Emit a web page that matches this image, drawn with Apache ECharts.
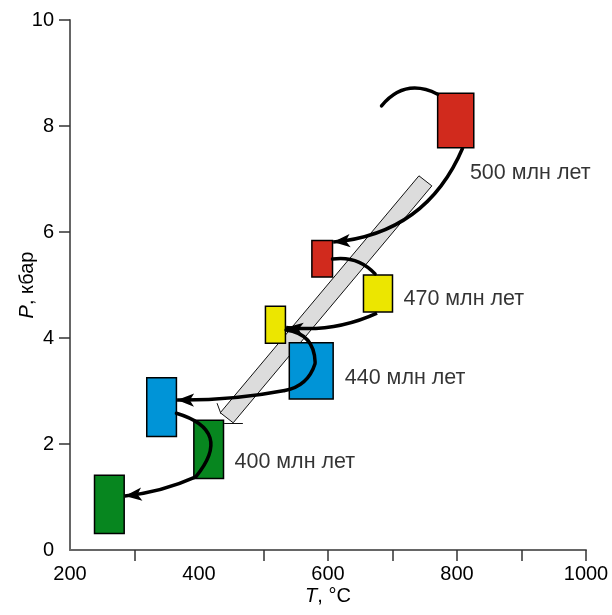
<!DOCTYPE html>
<html>
<head>
<meta charset="utf-8">
<script src="https://cdn.jsdelivr.net/npm/echarts@6/dist/echarts.min.js"></script>
<style>
  html, body { margin: 0; padding: 0; background: #fff; }
  #c1 { width: 612px; height: 615px; }
</style>
</head>
<body>
<div id="c1"></div>
<script>
// P-T boxes: temperature range (°C) and pressure range (kbar) for each stage
var boxPeriod = [500, 500, 470, 470, 440, 440, 400, 400]
var boxTMin = [770, 575, 655, 503, 540, 319, 392, 238]
var boxTMax = [826, 607, 700, 534, 608, 365, 438, 284]
var boxPMin = [7.59, 5.15, 4.49, 3.90, 2.85, 2.14, 1.35, 0.31]
var boxPMax = [8.62, 5.84, 5.19, 4.60, 3.91, 3.25, 2.45, 1.41]

// age labels (млн лет)
var labelAge = [500, 470, 440, 400]
var labelT = [820, 717, 626, 455]
var labelP = [7.11, 4.74, 3.25, 1.65]

// grey band (corner points, T / P)
var bandT = [741, 761, 453, 433]
var bandP = [7.06, 6.87, 2.40, 2.59]
// two thin strokes at the lower end of the band
var stickFrom = [[428, 2.77], [439, 2.40]]
var stickTo = [[434, 2.57], [468, 2.40]]

// P-T path: arcs without arrow and arcs ending in an arrow
var arcFrom = [[683, 8.38], [607, 5.49], [535, 4.15], [580, 3.52], [365, 2.58]]
var arcTo = [[770, 8.60], [673, 5.21], [580, 3.55], [533, 3.01], [395, 1.38]]
var arcBend = [0.40, 0.26, 0.42, 0.30, 0.75]
var arrowFrom = [[809, 7.59], [676, 4.47], [533, 3.01], [395, 1.38]]
var arrowTo = [[608, 5.81], [535, 4.20], [366, 2.83], [285, 1.02]]
var arrowBend = [0.30, 0.14, 0.05, 0.08]

// axis ticks
var xLabels = [200, 400, 600, 800, 1000]
var xTicks = [300, 500, 600, 700, 800, 900, 1000]
var yLabels = [0, 2, 4, 6, 8, 10]
var yTicks = [2, 4, 6, 8, 10]

var periodColor = { 500: '#d12a1d', 470: '#ece600', 440: '#0094d7', 400: '#07861f' }
var font = '"Liberation Sans", Arial, sans-serif'

var myChart = echarts.init(document.getElementById('c1'))

var boxData = boxPeriod.map(function (p, i) {
  return [boxTMin[i], boxTMax[i], boxPMin[i], boxPMax[i], p]
})
var bandData = bandT.map(function (t, i) { return [t, bandP[i]] })
var nameStyle = {
  fontSize: 20, color: '#000', fontFamily: font,
  rich: { i: { fontStyle: 'italic', fontSize: 20, fontFamily: font, color: '#000' } }
}

var option = {
  animation: false,
  grid: { left: 70, right: 26, top: 20, bottom: 65, containLabel: false, outerBoundsMode: 'none' },
  xAxis: {
    type: 'value',
    min: 200,
    max: 1000,
    name: '{i|T}, °C',
    nameLocation: 'middle',
    nameGap: 36,
    nameMoveOverlap: false,
    nameTextStyle: nameStyle,
    splitLine: { show: false },
    axisLine: { show: true, lineStyle: { color: '#666', width: 2 } },
    axisTick: { show: true, customValues: xTicks, length: 11, lineStyle: { color: '#333', width: 1.5 } },
    axisLabel: {
      customValues: xLabels, margin: 14, fontSize: 20, color: '#000', fontFamily: font,
      formatter: function (v) { return String(v) }
    }
  },
  yAxis: {
    type: 'value',
    min: 0,
    max: 10,
    name: '{i|P}, кбар',
    nameLocation: 'middle',
    nameGap: 33,
    nameMoveOverlap: false,
    nameTextStyle: nameStyle,
    splitLine: { show: false },
    axisLine: { show: true, lineStyle: { color: '#666', width: 2 } },
    axisTick: { show: true, customValues: yTicks, length: 11, lineStyle: { color: '#333', width: 1.5 } },
    axisLabel: { customValues: yLabels, margin: 16, fontSize: 20, color: '#000', fontFamily: font }
  },
  series: [
    {
      // grey band
      type: 'custom',
      z: 1,
      data: [0],
      renderItem: function (params, api) {
        return {
          type: 'polygon',
          shape: { points: bandData.map(function (d) { return api.coord(d) }) },
          style: { fill: '#dcdcdc', stroke: '#111', lineWidth: 1 }
        }
      }
    },
    {
      type: 'lines',
      coordinateSystem: 'cartesian2d',
      z: 1,
      symbol: 'none',
      lineStyle: { color: '#111', width: 1, opacity: 1 },
      data: stickFrom.map(function (f, i) { return { coords: [f, stickTo[i]] } })
    },
    {
      // P-T boxes
      type: 'custom',
      z: 2,
      data: boxData,
      renderItem: function (params, api) {
        var tl = api.coord([api.value(0), api.value(3)])
        var br = api.coord([api.value(1), api.value(2)])
        return {
          type: 'rect',
          shape: { x: tl[0], y: tl[1], width: br[0] - tl[0], height: br[1] - tl[1] },
          style: { fill: periodColor[api.value(4)], stroke: '#000', lineWidth: 1.5 }
        }
      }
    },
    {
      type: 'lines',
      coordinateSystem: 'cartesian2d',
      z: 3,
      symbol: 'none',
      lineStyle: { color: '#000', width: 3.5, opacity: 1, cap: 'round' },
      data: arcFrom.map(function (f, i) {
        return { coords: [f, arcTo[i]], lineStyle: { curveness: arcBend[i] } }
      })
    },
    {
      type: 'lines',
      coordinateSystem: 'cartesian2d',
      z: 3,
      symbol: ['none', 'arrow'],
      symbolSize: [0, [10, 17]],
      lineStyle: { color: '#000', width: 3.5, opacity: 1 },
      data: arrowFrom.map(function (f, i) {
        return { coords: [f, arrowTo[i]], lineStyle: { curveness: arrowBend[i] } }
      })
    },
    {
      // age labels
      type: 'scatter',
      z: 4,
      symbolSize: 0,
      silent: true,
      data: labelAge.map(function (a, i) { return [labelT[i], labelP[i], a] }),
      label: {
        show: true,
        position: 'right',
        distance: 0,
        fontSize: 21.5,
        color: '#000',
        fontFamily: font,
        formatter: function (p) { return p.value[2] + ' млн лет' }
      }
    }
  ]
}
option && myChart.setOption(option)
</script>
</body>
</html>
